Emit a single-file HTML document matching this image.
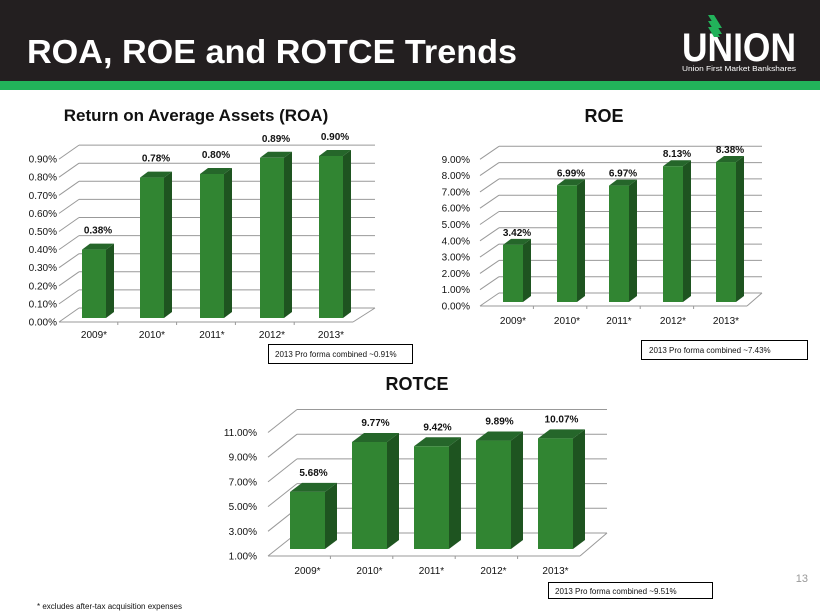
<!DOCTYPE html>
<html><head><meta charset="utf-8"><style>
html,body{margin:0;padding:0;background:#fff;}
svg{display:block;font-family:"Liberation Sans",Arial,sans-serif;}
</style></head><body>
<svg id="s" width="820" height="615" xmlns="http://www.w3.org/2000/svg">
<rect x="0" y="0" width="820" height="81" fill="#231f20"/>
<rect x="0" y="81" width="820" height="9" fill="#22b25a"/>
<text x="27" y="63" fill="#fff" font-size="33" font-weight="bold" textLength="490" lengthAdjust="spacingAndGlyphs">ROA, ROE and ROTCE Trends</text>
<g fill="#fff">
<text x="682" y="61" font-size="40" font-weight="bold" textLength="114" lengthAdjust="spacingAndGlyphs">UNION</text>
<text x="682" y="71" font-size="7.5" textLength="114" lengthAdjust="spacingAndGlyphs">Union First Market Bankshares</text>
</g>
<polygon points="708,15 714,15 722,28 716,28" fill="#22b25a"/>
<polygon points="708,21 714,21 722,34 716,34" fill="#22b25a"/>
<polygon points="708,27 714,27 720,37 714,37" fill="#22b25a"/>
<text x="196" y="121" font-size="17" font-weight="bold" text-anchor="middle" fill="#111">Return on Average Assets (ROA)</text>
<text x="604" y="122" font-size="18" font-weight="bold" text-anchor="middle" fill="#111">ROE</text>
<text x="417" y="390" font-size="18" font-weight="bold" text-anchor="middle" fill="#111">ROTCE</text>
<g fill="#fff" stroke="#000" stroke-width="1">
<rect x="268.5" y="344.5" width="144" height="19"/>
<rect x="641.5" y="340.5" width="166" height="19"/>
<rect x="548.5" y="582.5" width="164" height="16"/>
</g>
<g font-size="8" fill="#111">
<text x="275" y="357">2013 Pro forma combined ~0.91%</text>
<text x="649" y="353">2013 Pro forma combined ~7.43%</text>
<text x="555" y="594">2013 Pro forma combined ~9.51%</text>
</g>
<text x="37" y="609" font-size="8" fill="#111">* excludes after-tax acquisition expenses</text>
<text x="808" y="582" font-size="11" fill="#999" text-anchor="end">13</text>
<g id="charts"></g>
</svg>
<script>
var g=document.getElementById('charts'),h='';
function chart(c){
 for(var i=0;i<c.ticks.length;i++){
  var y=c.floor-i*c.step;
  h+='<line x1="'+c.fx0+'" y1="'+y+'" x2="'+(c.fx0+c.dx)+'" y2="'+(y+c.dy)+'" stroke="#999"/>';
  h+='<line x1="'+(c.fx0+c.dx)+'" y1="'+(y+c.dy)+'" x2="'+c.bx1+'" y2="'+(y+c.dy)+'" stroke="#999"/>';
  h+='<text x="'+c.lx+'" y="'+(y+3.5)+'" font-size="10" text-anchor="end" fill="#111">'+c.ticks[i]+'</text>';
 }
 h+='<line x1="'+c.fx0+'" y1="'+c.floor+'" x2="'+c.fx1+'" y2="'+c.floor+'" stroke="#999"/>';
 h+='<line x1="'+c.fx1+'" y1="'+c.floor+'" x2="'+c.bx1+'" y2="'+(c.floor+c.dy)+'" stroke="#999"/>';
 var cats=['2009*','2010*','2011*','2012*','2013*'];
 for(var j=0;j<5;j++){
  var x=c.bx[j],t=c.base-(c.vals[j]-c.min)*c.sc,w=c.w,sd=c.sd,sy=c.sdy;
  h+='<polygon points="'+(x+w)+','+c.base+' '+(x+w+sd)+','+(c.base+sy)+' '+(x+w+sd)+','+(t+sy)+' '+(x+w)+','+t+'" fill="#1e5420"/>';
  h+='<polygon points="'+x+','+t+' '+(x+sd)+','+(t+sy)+' '+(x+w+sd)+','+(t+sy)+' '+(x+w)+','+t+'" fill="#25662a"/>';
  h+='<rect x="'+x+'" y="'+t+'" width="'+w+'" height="'+(c.base-t)+'" fill="#318532"/>';
  h+='<text x="'+(x+w/2+sd/2)+'" y="'+(t-c.lo)+'" font-size="10" font-weight="bold" text-anchor="middle" fill="#111">'+c.lab[j]+'</text>';
  h+='<text x="'+(x+w/2)+'" y="'+c.cy+'" font-size="10" text-anchor="middle" fill="#111">'+cats[j]+'</text>';
  var tx=c.fx0+(c.fx1-c.fx0)*(j+1)/5;
  if(j<4)h+='<line x1="'+tx+'" y1="'+c.floor+'" x2="'+tx+'" y2="'+(c.floor+3)+'" stroke="#999"/>';
 }
}
chart({ticks:['0.00%','0.10%','0.20%','0.30%','0.40%','0.50%','0.60%','0.70%','0.80%','0.90%'],
 floor:322,step:18.1,fx0:59,fx1:353,dx:20,dy:-14,bx1:375,lx:57,
 bx:[82,140,200,260,319],w:24,sd:8,sdy:-6,base:318,min:0,sc:180,
 vals:[0.38,0.78,0.80,0.89,0.90],lab:['0.38%','0.78%','0.80%','0.89%','0.90%'],lo:16,cy:338});
chart({ticks:['0.00%','1.00%','2.00%','3.00%','4.00%','5.00%','6.00%','7.00%','8.00%','9.00%'],
 floor:306,step:16.3,fx0:480,fx1:747,dx:19,dy:-13,bx1:762,lx:470,
 bx:[503,557,609,663,716],w:20,sd:8,sdy:-6,base:302,min:0,sc:16.7,
 vals:[3.42,6.99,6.97,8.13,8.38],lab:['3.42%','6.99%','6.97%','8.13%','8.38%'],lo:9,cy:324});
chart({ticks:['1.00%','3.00%','5.00%','7.00%','9.00%','11.00%'],
 floor:556,step:24.7,fx0:268,fx1:580,dx:29,dy:-23,bx1:607,lx:257,
 bx:[290,352,414,476,538],w:35,sd:12,sdy:-9,base:549,min:1,sc:12.2,
 vals:[5.68,9.77,9.42,9.89,10.07],lab:['5.68%','9.77%','9.42%','9.89%','10.07%'],lo:16,cy:574});
g.innerHTML=h;
</script>
</body></html>
